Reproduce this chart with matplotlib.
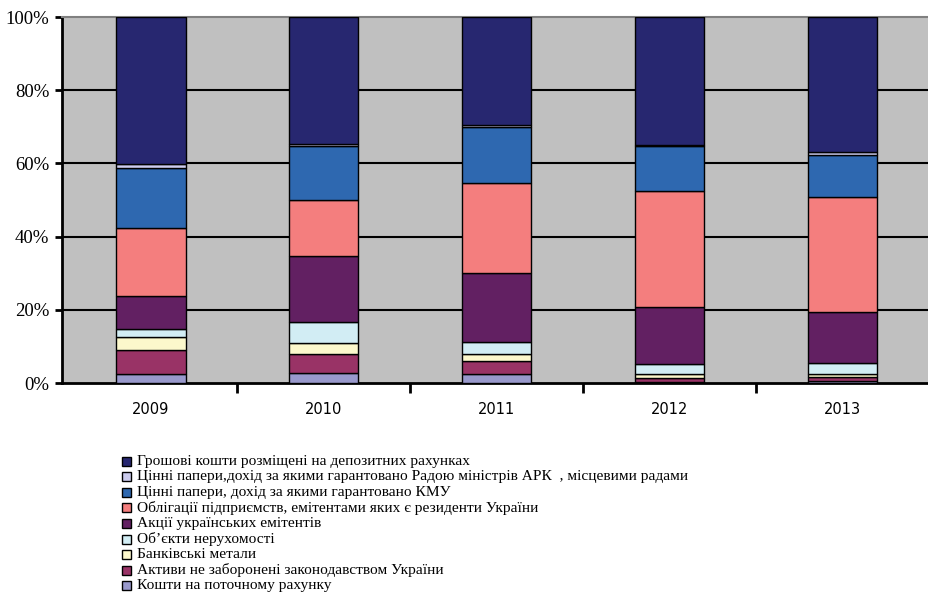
import matplotlib
matplotlib.use("Agg")
import matplotlib.pyplot as plt
from matplotlib.patches import Rectangle
import numpy as np

years = ["2009", "2010", "2011", "2012", "2013"]

# series from bottom to top (percent of total)
kosty_potochni = [2.5, 2.8, 2.5, 0.3, 0.5]
aktyvy_ne_zaboroneni = [6.5, 5.1, 3.6, 1.0, 1.2]
bankivski_metaly = [3.7, 3.1, 1.8, 1.1, 0.8]
obekty_nerukhomosti = [2.0, 5.6, 3.4, 2.8, 3.1]
aktsii = [9.1, 18.1, 18.7, 15.6, 13.8]
oblihatsii = [18.5, 15.3, 24.7, 31.7, 31.3]
tsinni_kmu = [16.5, 14.7, 15.3, 12.2, 11.5]
tsinni_ark = [1.0, 0.5, 0.4, 0.4, 0.8]
depozyty = [40.2, 34.8, 29.6, 34.9, 37.0]

labels = [
    "Кошти на поточному рахунку",
    "Активи не заборонені законодавством України",
    "Банківські метали",
    "Об’єкти нерухомості",
    "Акції українських емітентів",
    "Облігації підприємств, емітентами яких є резиденти України",
    "Цінні папери, дохід за якими гарантовано КМУ",
    "Цінні папери,дохід за якими гарантовано Радою міністрів АРК  , місцевими радами",
    "Грошові кошти розміщені на депозитних рахунках",
]
series = [kosty_potochni, aktyvy_ne_zaboroneni, bankivski_metaly, obekty_nerukhomosti,
          aktsii, oblihatsii, tsinni_kmu, tsinni_ark, depozyty]
colors = ["#9999CC", "#993366", "#FCF8CC", "#D2EDF4", "#622062",
          "#F47E7E", "#2E68B0", "#CCCCEE", "#272770"]

fig = plt.figure(figsize=(9.29, 5.94), dpi=100)
W, H = 929, 594
ax = fig.add_axes([62 / W, 1 - 383 / H, (W - 62) / W, 366 / H])
ax.set_facecolor("#C0C0C0")

x = np.arange(len(years))
data = np.array(series, dtype=float)
totals = data.sum(axis=0)
pct = data / totals * 100
bottom = np.zeros(len(years))
for vals, c in zip(pct, colors):
    ax.bar(x, vals, width=0.4, bottom=bottom, color=c, edgecolor="black",
           linewidth=1.0, zorder=3)
    bottom += vals

spacing = 174.9
first_center = 152.0
ax.set_xlim(-(first_center - 62) / spacing, (W - first_center) / spacing)
ax.set_ylim(0, 100)

yt = [0, 20, 40, 60, 80, 100]
ax.set_yticks(yt)
ax.set_yticklabels([f"{v}%" for v in yt], fontfamily="Liberation Serif", fontsize=13.5)
for v in [20, 40, 60, 80]:
    ax.axhline(v, color="black", linewidth=1.5, zorder=1)

ax.set_xticks(x)
ax.set_xticklabels(years, fontfamily="DejaVu Sans", fontsize=10.5)
ax.set_xticks(np.arange(len(years)) + 0.5, minor=True)
ax.tick_params(axis="x", which="major", length=0, pad=14)
ax.tick_params(axis="x", which="minor", length=7, width=2, direction="out")
ax.tick_params(axis="y", length=5, width=2, direction="out", pad=4)

ax.spines["right"].set_visible(False)
ax.spines["top"].set_color("#808080")
ax.spines["top"].set_linewidth(1.5)
ax.spines["left"].set_linewidth(2)
ax.spines["bottom"].set_linewidth(2)

# legend (top row = last series), drawn in figure pixel coordinates
row0, row_h = 461.0, 15.6
for i, (lab, c) in enumerate(zip(labels[::-1], colors[::-1])):
    yc = row0 + i * row_h
    fig.patches.append(Rectangle((122 / W, 1 - (yc + 4.5) / H), 9 / W, 9 / H,
                                 transform=fig.transFigure, facecolor=c,
                                 edgecolor="black", linewidth=1.0))
    fig.text(137 / W, 1 - yc / H, lab, fontfamily="Liberation Serif",
             fontsize=11.1, va="center", ha="left")

fig.savefig("out.png", dpi=100)
